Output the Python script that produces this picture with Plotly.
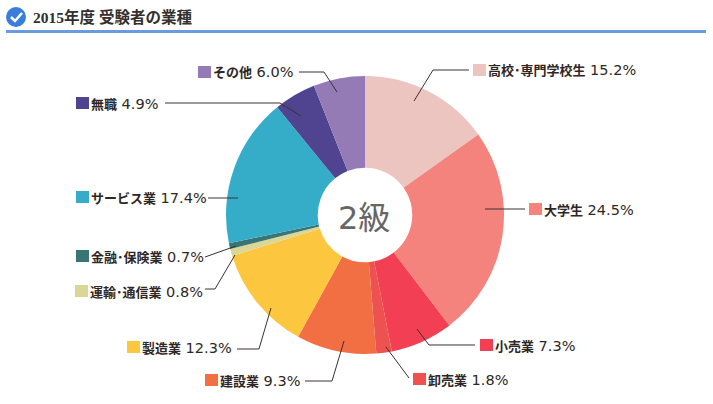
"""2015 survey pie: occupation of examinees, grade 2."""

import plotly.graph_objects as go

WIDTH = 713
HEIGHT = 404

categories = [
    "高校･専門学校生", "大学生", "小売業", "卸売業", "建設業", "製造業",
    "運輸･通信業", "金融･保険業", "サービス業", "無職", "その他",
]
shares = [15.2, 24.5, 7.3, 1.8, 9.3, 12.3, 0.8, 0.7, 17.4, 4.9, 6.0]
slice_colors = [
    "#ECC5C1", "#F4827D", "#F23F54", "#EE5250", "#F26F44", "#FCC63F",
    "#DAD695", "#3A7575", "#35ADC8", "#50438F", "#957BB5",
]

# pixel layout, left of swatch and middle of label row
label_pos = [
    (473, 70), (529, 209), (480, 345), (413, 379), (205, 380), (127, 347),
    (75, 291), (76, 256), (76, 197), (76, 103), (198, 72),
]
leaders = [
    [(414, 101), (433, 70), (469, 70)],
    [(485, 209), (525, 209)],
    [(417, 329), (429, 345), (475, 345)],
    [(386, 347), (409, 378)],
    [(344, 341), (332, 381), (305, 381)],
    [(271, 308), (259, 349), (237, 349)],
    [(235, 255), (215, 289), (205, 289)],
    [(236, 246), (205, 257)],
    [(208, 198), (238, 198)],
    [(165, 103), (280, 103), (301, 116)],
    [(299, 72), (324, 72), (337, 92)],
]

LABEL_FONT = "Noto Sans CJK JP"
NUMBER_FONT = "DejaVu Sans"
TITLE_FONT = "Liberation Serif, Noto Sans CJK JP"
INK = "#2F2725"


def px(x):
    return x / WIDTH


def py(y):
    return 1 - y / HEIGHT


def poly_path(points):
    parts = [f"{'M' if i == 0 else 'L'}{px(x):.5f},{py(y):.5f}" for i, (x, y) in enumerate(points)]
    return " ".join(parts)


fig = go.Figure(
    go.Pie(
        labels=categories,
        values=shares,
        sort=False,
        direction="clockwise",
        rotation=0,
        hole=0.34,
        marker={"colors": slice_colors, "line": {"width": 0}},
        textinfo="none",
        hoverinfo="label+percent",
        showlegend=False,
        domain={"x": [px(226), px(504)], "y": [py(354), py(76)]},
    )
)

shapes = []
annotations = []

for name, share, color, (x, y), points in zip(categories, shares, slice_colors, label_pos, leaders):
    shapes.append(
        {
            "type": "path",
            "path": poly_path(points),
            "xref": "paper",
            "yref": "paper",
            "line": {"color": "#3A3230", "width": 1},
        }
    )
    shapes.append(
        {
            "type": "rect",
            "xref": "paper",
            "yref": "paper",
            "x0": px(x),
            "x1": px(x + 13),
            "y0": py(y - 6),
            "y1": py(y + 6),
            "fillcolor": color,
            "line": {"width": 0},
        }
    )
    number = f'<span style="font-family:{NUMBER_FONT};font-size:14.5px;font-weight:400"> {share:.1f}%</span>'
    annotations.append(
        {
            "text": f"{name}{number}",
            "xref": "paper",
            "yref": "paper",
            "x": px(x + 13),
            "y": py(y),
            "xanchor": "left",
            "yanchor": "middle",
            "showarrow": False,
            "font": {"family": LABEL_FONT, "size": 13, "color": INK, "weight": 700},
        }
    )

# header: check badge and rule
shapes.append(
    {
        "type": "circle",
        "xref": "paper",
        "yref": "paper",
        "x0": px(6),
        "x1": px(26),
        "y0": py(27),
        "y1": py(7),
        "fillcolor": "#3B7DDB",
        "line": {"width": 0},
    }
)
shapes.append(
    {
        "type": "path",
        "path": poly_path([(11, 17), (15, 21), (22, 13)]),
        "xref": "paper",
        "yref": "paper",
        "line": {"color": "white", "width": 2.5},
    }
)
shapes.append(
    {
        "type": "rect",
        "xref": "paper",
        "yref": "paper",
        "x0": px(6),
        "x1": px(706),
        "y0": py(33),
        "y1": py(30),
        "fillcolor": "#6A9BE0",
        "line": {"width": 0},
    }
)
annotations.append(
    {
        "text": "2015年度 受験者の業種",
        "xref": "paper",
        "yref": "paper",
        "x": px(31),
        "y": py(17),
        "xanchor": "left",
        "yanchor": "middle",
        "showarrow": False,
        "font": {"family": TITLE_FONT, "size": 15.5, "color": "#33302E", "weight": 700},
    }
)
annotations.append(
    {
        "text": f'<span style="font-family:{NUMBER_FONT}">2</span>級',
        "xref": "paper",
        "yref": "paper",
        "x": px(364),
        "y": py(215),
        "xanchor": "center",
        "yanchor": "middle",
        "showarrow": False,
        "font": {"family": LABEL_FONT, "size": 32, "color": "#666666"},
    }
)

fig.update_layout(
    width=WIDTH,
    height=HEIGHT,
    margin={"l": 0, "r": 0, "t": 0, "b": 0},
    paper_bgcolor="white",
    plot_bgcolor="white",
    shapes=shapes,
    annotations=annotations,
)

# drop the browser's default 8px body margin so pixels line up with the reference
fig.write_html(
    "out.html",
    config={"displayModeBar": False},
    post_script="document.body.style.margin = '0';",
)
